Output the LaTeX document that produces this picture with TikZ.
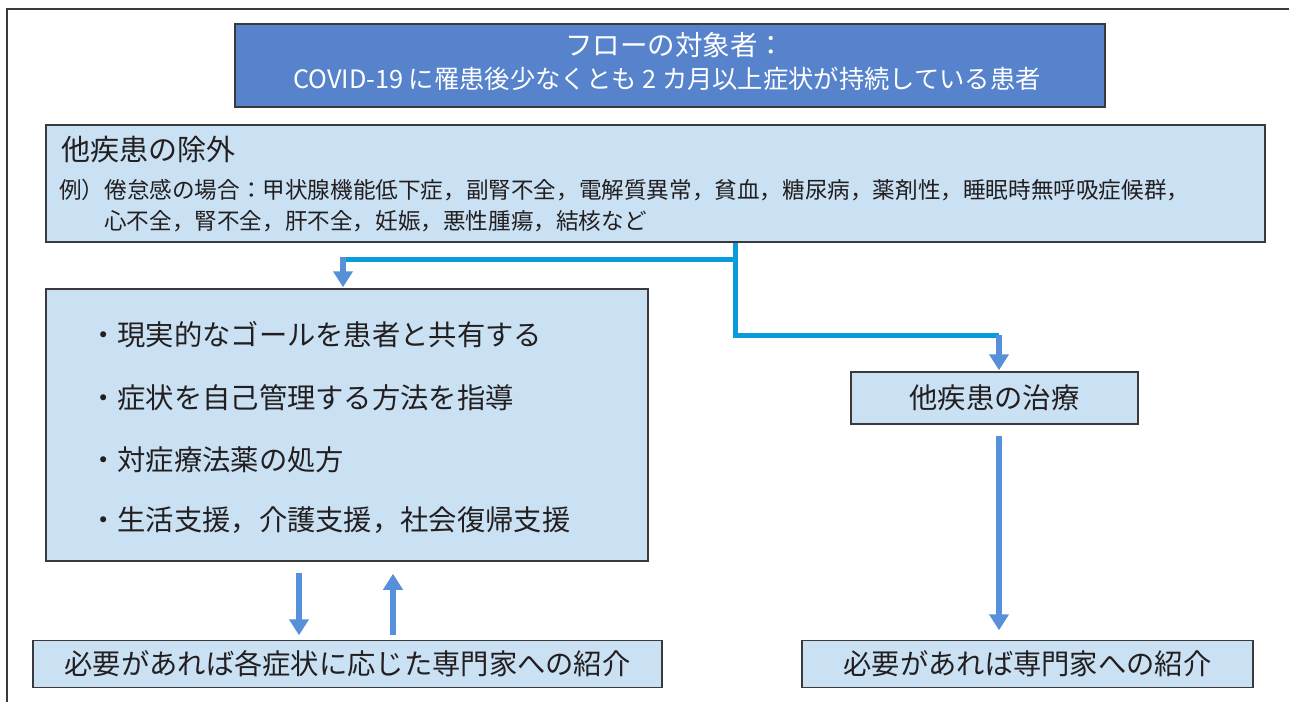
\documentclass[tikz,border=0pt]{standalone}
\usepackage{fontspec}
\setmainfont{Noto Sans CJK JP}
\usetikzlibrary{arrows.meta}
\definecolor{titleblue}{HTML}{5683CC}
\definecolor{lightfill}{HTML}{C9E1F3}
\definecolor{edge}{HTML}{3A3A3C}
\definecolor{txt}{HTML}{231F20}
\definecolor{cyanline}{HTML}{0A9BDD}
\definecolor{arrblue}{HTML}{5590D9}
\tikzset{
  box/.style={draw=edge, line width=1.5pt, fill=lightfill, inner sep=0pt, text=txt},
  titlebox/.style={draw=edge, line width=1.5pt, fill=titleblue, inner sep=0pt},
  bigtxt/.style={font=\fontsize{28.3}{32}\selectfont, text=txt, inner sep=0pt},
  smalltxt/.style={font=\fontsize{22.6}{26}\selectfont, text=txt, inner sep=0pt},
  conn/.style={draw=cyanline, line width=5pt},
  arr/.style={draw=arrblue, line width=6pt, -{Triangle[width=19pt,length=16pt]}},
}
\begin{document}
\begin{tikzpicture}[x=1pt,y=-1pt]
\useasboundingbox (0,0) rectangle (1289,702);
\fill[white] (0,0) rectangle (1289,702);
% outer frame (open to right and bottom)
\draw[edge, line width=2pt] (7,702) -- (7,9) -- (1289,9);

% title box
\node[titlebox, minimum width=870pt, minimum height=83pt] (title) at (670,65.5) {};
\node[text=white, inner sep=0pt, font=\fontsize{27.5}{30}\selectfont] (t1) at (675,45) {フローの対象者：};
\node[text=white, inner sep=0pt, font=\fontsize{25.3}{30}\selectfont] (t2) at (667,79) {COVID-19 に罹患後少なくとも 2 カ月以上症状が持続している患者};

% exclusion box
\node[box, minimum width=1219pt, minimum height=117pt] (excl) at (655.5,183.5) {};
\node[bigtxt, font=\fontsize{29}{32}\selectfont, anchor=west] (exclhead) at (61,150) {他疾患の除外};
\node[smalltxt, anchor=west] (ex1) at (59,190) {例）倦怠感の場合：甲状腺機能低下症，副腎不全，電解質異常，貧血，糖尿病，薬剤性，睡眠時無呼吸症候群，};
\node[smalltxt, anchor=west] (ex2) at (104,221) {心不全，腎不全，肝不全，妊娠，悪性腫瘍，結核など};

% care box
\node[box, minimum width=602pt, minimum height=272pt] (care) at (347,425) {};
\node[bigtxt, anchor=west] (c1) at (89,335) {・現実的なゴールを患者と共有する};
\node[bigtxt, anchor=west] (c2) at (89,398) {・症状を自己管理する方法を指導};
\node[bigtxt, anchor=west] (c3) at (89,460) {・対症療法薬の処方};
\node[bigtxt, anchor=west] (c4) at (89,520) {・生活支援，介護支援，社会復帰支援};

% treatment box
\node[box, bigtxt, draw=edge, fill=lightfill, minimum width=287pt, minimum height=52pt] (treat) at (994.5,398) {他疾患の治療};

% referral boxes
\node[box, bigtxt, draw=edge, fill=lightfill, minimum width=629pt, minimum height=47pt] (ref1) at (347.5,664) {必要があれば各症状に応じた専門家への紹介};
\node[box, bigtxt, draw=edge, fill=lightfill, minimum width=451pt, minimum height=47pt] (ref2) at (1027.5,664) {必要があれば専門家への紹介};

% connectors
\coordinate (j1) at (735,259);
\coordinate (j2) at (735,335);
\coordinate (a1) at (343,257);
\coordinate (a2) at (999,335);
\draw[conn] (excl.south -| j1) -- (j2) -- (a2);
\draw[conn] (j1) -- (346,259);
\draw[arr] (a1) -- ([yshift=1pt]a1 |- care.north);
\draw[arr] (a2) -- ([yshift=1pt]a2 |- treat.north);

\coordinate (d1) at (299,573);
\coordinate (u1) at (393,636);
\draw[arr] (d1) -- ([yshift=4.5pt]d1 |- ref1.north);
\draw[arr] (u1 |- ref1.north) ++(0,-5) -- ([yshift=-12pt]u1 |- care.south);
\coordinate (d2) at (999,436);
\draw[arr] (d2) -- ([yshift=9.5pt]d2 |- ref2.north);
\end{tikzpicture}
\end{document}
